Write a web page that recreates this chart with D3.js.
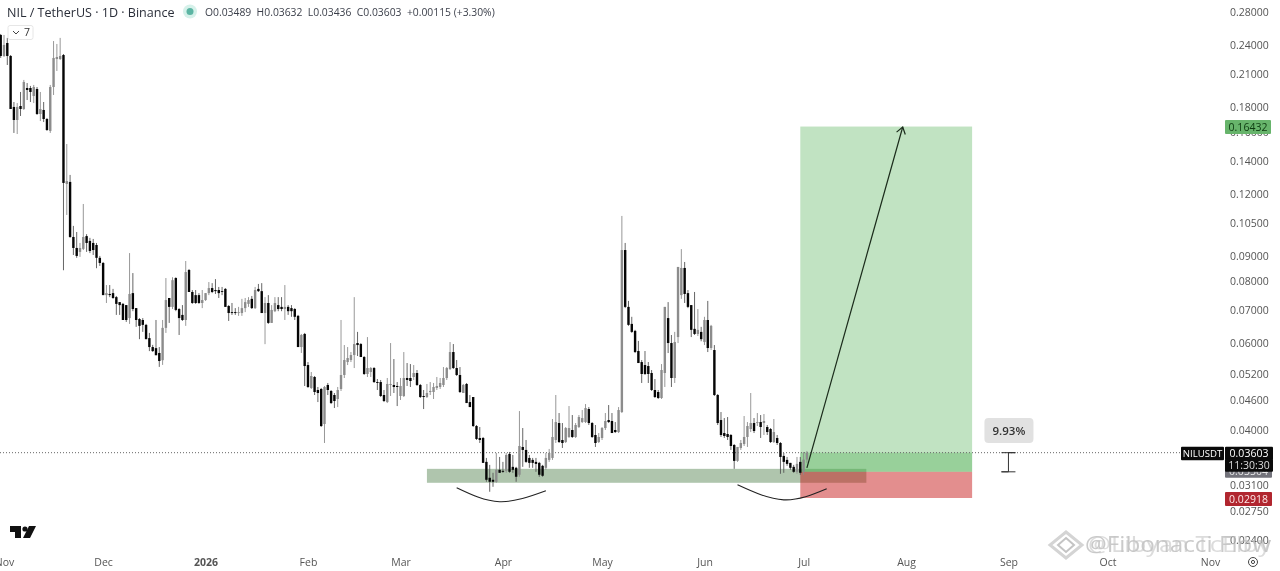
<!DOCTYPE html>
<html>
<head>
<meta charset="utf-8">
<title>NIL / TetherUS</title>
<script src="https://cdn.jsdelivr.net/npm/d3@7"></script>
<style>
    html, body { margin: 0; padding: 0; background: #fff; overflow: hidden; }
    svg { display: block; font-family: "Open Sans", sans-serif; filter: blur(.3px); }
</style>
</head>
<body>
<svg id="chart" width="1280" height="571"></svg>
<script>
// daily candles, first one is 2025-10-31
var firstDay = new Date(Date.UTC(2025, 9, 31));

var opens = [
    .2516,.2282,.2424,.2282,.1800,.1694,.1808,.1783,.1966,.1966,
    .1894,.1957,.1742,.1775,.1702,.1610,.1975,.2250,.2250,.2292,
    .1258,.1270,.0983,.0934,.0917,.0930,.0987,.0965,.0956,.0947,
    .0892,.0871,.0750,.0754,.0757,.0743,.0726,.0720,.0716,.0674,
    .0757,.0706,.0671,.0668,.0653,.0614,.0589,.0586,.0573,.0554,
    .0644,.0740,.0710,.0812,.0703,.0684,.0668,.0843,.0761,.0750,
    .0750,.0723,.0733,.0757,.0775,.0768,.0768,.0764,.0772,.0713,
    .0693,.0693,.0690,.0690,.0706,.0720,.0737,.0706,.0772,.0764,
    .0690,.0723,.0659,.0696,.0716,.0710,.0703,.0710,.0706,.0703,
    .0681,.0589,.0626,.05417,.04869,.05124,.04823,.04846,.04117,.04937,
    .04801,.04712,.04625,.04846,.05172,.05493,.05545,.05675,.06001,.05973,
    .05623,.05196,.05244,.05342,.05005,.05005,.04712,.04560,.04937,.04937,
    .04914,.04690,.04690,.05100,.05100,.05124,.05220,.04937,.04690,.04668,
    .04778,.04778,.04869,.04891,.04937,.05100,.05317,.05755,.05342,.05172,
    .04756,.04960,.04560,.04668,.04079,.03858,.03858,.03452,.03206,.03176,
    .03147,.03327,.03311,.03311,.03582,.03373,.03358,.03251,.03700,.03649,
    .03516,.03484,.03452,.03436,.03389,.03358,.03484,.03516,.03822,.04136,
    .03822,.03786,.03876,.04004,.03876,.04060,.04155,.04155,.04414,.04136,
    .03912,.03786,.03858,.04041,.04194,.04175,.04004,.03966,.04353,.0925,
    .0710,.0656,.0635,.05782,.05493,.05417,.05392,.05220,.04823,.04778,
    .04647,.05220,.0674,.06001,.05100,.0617,.0750,.0851,.0757,.0716,
    .0641,.0626,.0632,.06029,.0668,.05863,.05809,.04712,.04194,.03948,
    .03930,.03912,.03734,.03468,.03683,.03751,.03876,.04022,.04136,.04136,
    .04155,.04136,.04060,.04022,.03786,.03858,.03769,.03549,.03484,.03436,
    .03373,.03296,.03452,.03296,.03489
];
var highs = [
    .2528,.2516,.2482,.2292,.1842,.1833,.1930,.2041,.2012,.1985,
    .1994,.1975,.1930,.1842,.1710,.1994,.2446,.2413,.2482,.2303,
    .1515,.1312,.1035,.1006,.0956,.1146,.0996,.0979,.0974,.0956,
    .0900,.0875,.0786,.0786,.0772,.0747,.0726,.0723,.0716,.0912,
    .0831,.0706,.0674,.0674,.0656,.0629,.0595,.0668,.0589,.0668,
    .0812,.0740,.0815,.0815,.0706,.0716,.0879,.0847,.0768,.0768,
    .0757,.0768,.0757,.0797,.0793,.0808,.0779,.0779,.0775,.0716,
    .0723,.0706,.0710,.0737,.0740,.0743,.0747,.0779,.0790,.0793,
    .0743,.0750,.0716,.0743,.0743,.0743,.0786,.0716,.0716,.0706,
    .0684,.0626,.0629,.05493,.05244,.05148,.04891,.04869,.04914,.04983,
    .04823,.04756,.04891,.0668,.05945,.05890,.05755,.0743,.0632,.06001,
    .05649,.0617,.05367,.05367,.05076,.05053,.04823,.05100,.06001,.05571,
    .05005,.05100,.05755,.05468,.05442,.05417,.05293,.04960,.04823,.04960,
    .05005,.04983,.05124,.05100,.05367,.05367,.06029,.05973,.05545,.05367,
    .04960,.04983,.04712,.04668,.04098,.04060,.03876,.03516,.03404,.03281,
    .03598,.03532,.03452,.03598,.03615,.03565,.03373,.04373,.04041,.03822,
    .03565,.03516,.03516,.03452,.03404,.03598,.03666,.04214,.04712,.04333,
    .04136,.04060,.04476,.04293,.04136,.04293,.04394,.04518,.04455,.04155,
    .04098,.03948,.04060,.04333,.04497,.04333,.04155,.04455,.1084,.0956,
    .0730,.0678,.0638,.0606,.05545,.05782,.05493,.05293,.05076,.04823,
    .05442,.0710,.0726,.0623,.0632,.0855,.0929,.0875,.0768,.0716,
    .0761,.0703,.0647,.0678,.0730,.0653,.05945,.04734,.04353,.04233,
    .04253,.03930,.03751,.03700,.03822,.04273,.04155,.04756,.04233,.04333,
    .04293,.04313,.04098,.04041,.04214,.03912,.03786,.03598,.03532,.03436,
    .03404,.03532,.03532,.03615,.03632
];
var lows = [
    .2261,.2271,.2188,.1783,.1595,.1587,.1726,.1775,.1859,.1842,
    .1833,.1734,.1686,.1678,.1610,.1595,.1903,.2128,.2240,.0842,
    .1089,.0979,.0904,.0892,.0896,.0925,.0917,.0912,.0904,.0850,
    .0859,.0750,.0723,.0743,.0737,.0684,.0684,.0668,.0662,.0656,
    .0696,.0647,.0611,.0632,.0611,.0578,.0576,.0567,.0537,.0542,
    .0629,.0659,.0703,.0696,.0623,.0665,.0650,.0761,.0720,.0720,
    .0720,.0706,.0730,.0750,.0757,.0754,.0740,.0750,.0710,.0665,
    .0684,.0684,.0681,.0681,.0693,.0710,.0703,.0703,.0761,.0690,
    .0597,.0656,.0659,.0693,.0696,.0696,.0668,.0684,.0678,.0668,
    .0589,.0573,.04914,.04869,.04846,.04712,.04560,.04060,.03769,.04712,
    .04518,.04435,.04455,.04801,.05100,.05417,.05493,.05342,.05649,.05623,
    .05172,.05124,.05124,.04983,.04823,.04668,.04560,.04539,.04690,.04756,
    .04476,.04604,.04668,.04914,.04891,.05053,.04914,.04647,.04414,.04647,
    .04712,.04625,.04823,.04846,.04891,.05053,.05293,.05317,.05148,.04756,
    .04756,.04539,.04455,.04060,.03822,.03769,.03436,.03147,.03004,.03074,
    .03132,.03281,.03281,.03281,.03281,.03281,.03147,.03221,.03373,.03436,
    .03358,.03358,.03296,.03221,.03221,.03327,.03452,.03484,.03769,.03769,
    .03683,.03769,.03858,.03858,.03858,.04041,.04136,.04136,.04098,.03858,
    .03700,.03769,.03822,.04004,.04136,.03948,.03948,.03948,.04333,.0706,
    .0650,.0629,.05728,.05468,.04983,.05172,.04983,.04801,.04647,.04625,
    .04625,.04891,.05728,.04891,.04983,.06001,.0737,.0723,.0706,.0617,
    .0623,.0620,.0605,.05945,.05755,.05809,.04690,.04098,.03876,.03858,
    .03822,.03649,.03342,.03452,.03649,.03717,.03700,.03966,.03948,.04079,
    .03858,.03912,.03912,.03769,.03769,.03734,.03266,.03281,.03389,.03327,
    .03281,.03266,.03251,.03251,.03436
];
var closes = [
    .2282,.2402,.2282,.1783,.1694,.1800,.1783,.2022,.1948,.1930,
    .1975,.1742,.1783,.1702,.1617,.1975,.2261,.2271,.2282,.1264,
    .1275,.0983,.0934,.0900,.0934,.0983,.0956,.0921,.0925,.0892,
    .0871,.0750,.0757,.0750,.0740,.0720,.0716,.0668,.0668,.0754,
    .0703,.0668,.0650,.0653,.0611,.0589,.0578,.0567,.0552,.0644,
    .0733,.0710,.0804,.0700,.0674,.0668,.0835,.0761,.0723,.0723,
    .0723,.0733,.0757,.0775,.0761,.0764,.0757,.0761,.0710,.0690,
    .0690,.0690,.0693,.0706,.0726,.0733,.0706,.0768,.0764,.0690,
    .0723,.0659,.0700,.0723,.0703,.0703,.0710,.0696,.0696,.0678,
    .0589,.0623,.05392,.04891,.05148,.04778,.04756,.04079,.04891,.04823,
    .04539,.04582,.04823,.05172,.05545,.05597,.05675,.05973,.05945,.05623,
    .05196,.05342,.05342,.05005,.04983,.04690,.04582,.04960,.04960,.04891,
    .04891,.04914,.05100,.05053,.05029,.05220,.04937,.04668,.04668,.04756,
    .04801,.04891,.04914,.04983,.05100,.05342,.05755,.05342,.05172,.04778,
    .04937,.04539,.04455,.04079,.03840,.03822,.03436,.03176,.03147,.03147,
    .03327,.03281,.03296,.03565,.03296,.03327,.03221,.03717,.03649,.03452,
    .03436,.03436,.03420,.03251,.03236,.03516,.03598,.03876,.04155,.03786,
    .03769,.04041,.04041,.03876,.04098,.04253,.04233,.04435,.04136,.03876,
    .03769,.03876,.04041,.04175,.04155,.03948,.03966,.04394,.0925,.0710,
    .0653,.0632,.05755,.05468,.05196,.05196,.05196,.04823,.04668,.04647,
    .05293,.0710,.06001,.05100,.06029,.0855,.0851,.0754,.0710,.0638,
    .0626,.0638,.0611,.0668,.05863,.0650,.04712,.04136,.03912,.03894,
    .03876,.03717,.03468,.03700,.03769,.03876,.04079,.04136,.03985,.04155,
    .04060,.04175,.03966,.03786,.03966,.03769,.03532,.03452,.03420,.03358,
    .03296,.03420,.03281,.03489,.03603
];

var priceTicks = [.28,.24,.21,.18,.16,.14,.12,.105,.09,.08,.07,.06,.052,.046,.04,.031,.0275,.024];
var monthTicks = ["2025-11-01","2025-12-01","2026-01-01","2026-02-01","2026-03-01","2026-04-01","2026-05-01","2026-06-01","2026-07-01","2026-08-01","2026-09-01","2026-10-01","2026-11-01"];

var zoneDates = ["2026-03-09","2026-07-20"];
var zonePrices = [.03342,.03132];
var toolDates = ["2026-06-30","2026-08-21"];
var entryPrice = .03296, targetPrice = .16432, stopPrice = .02918;
var lastPrice = .03603, prevLabelPrice = .03504;
var arrowDates = ["2026-07-02","2026-07-31"];
var arrowPrices = [.03358,.1640];
var arc1Dates = ["2026-03-18","2026-03-31","2026-04-14"];
var arc1Prices = [.03060,.02868,.03018];
var arc2Dates = ["2026-06-11","2026-06-25","2026-07-08"];
var arc2Prices = [.03103,.02893,.03046];
var rulerDate = "2026-09-01";

var svg = d3.select("#chart");
var fmt = d3.format(".5f");
var day = function(s){ return new Date(s + "T00:00:00Z"); };

var x = d3.scaleUtc().domain([day("2025-11-01"), day("2026-11-01")]).range([4, 1210]);
var y = d3.scaleLog().domain([.28, .024]).range([12, 540]);

var candles = opens.map(function(o, i){
    return {date: d3.utcDay.offset(firstDay, i), o: o, h: highs[i], l: lows[i], c: closes[i]};
});

// axes
var yAxis = d3.axisRight(y).tickValues(priceTicks).tickFormat(fmt).tickSize(0).tickPadding(0);
var gy = svg.append("g").attr("transform", "translate(1230,0)").call(yAxis);
gy.select(".domain").remove();
gy.selectAll("text").style("font-size", "10.5px").style("fill", "#555").style("font-family", "'Open Sans', sans-serif");

var xAxis = d3.axisBottom(x).tickValues(monthTicks.map(day)).tickSize(0).tickPadding(0)
    .tickFormat(function(d){
        return d.getUTCMonth() === 0 ? d3.utcFormat("%Y")(d) : d3.utcFormat("%b")(d);
    });
var gx = svg.append("g").attr("transform", "translate(0,559)").call(xAxis);
gx.select(".domain").remove();
gx.selectAll("text").style("font-size", "10.5px").style("fill", "#555").style("font-family", "'Open Sans', sans-serif")
    .style("font-weight", function(d){ return d.getUTCMonth() === 0 ? "700" : "400"; });

// zone under the position tool
svg.append("rect")
    .attr("x", x(day(zoneDates[0]))).attr("width", x(day(zoneDates[1])) - x(day(zoneDates[0])))
    .attr("y", y(zonePrices[0])).attr("height", y(zonePrices[1]) - y(zonePrices[0]))
    .attr("fill", "#afc5ad");

// long position tool
var toolX = x(day(toolDates[0])), toolW = x(day(toolDates[1])) - toolX;
svg.append("rect").attr("x", toolX).attr("width", toolW)
    .attr("y", y(targetPrice)).attr("height", y(entryPrice) - y(targetPrice))
    .attr("fill", "rgb(76,175,80)").attr("fill-opacity", .35);
svg.append("rect").attr("x", toolX).attr("width", toolW)
    .attr("y", y(lastPrice)).attr("height", y(entryPrice) - y(lastPrice))
    .attr("fill", "rgb(76,175,80)").attr("fill-opacity", .35);
svg.append("rect").attr("x", toolX).attr("width", toolW)
    .attr("y", y(entryPrice)).attr("height", y(stopPrice) - y(entryPrice))
    .attr("fill", "rgb(200,30,30)").attr("fill-opacity", .5);

// last price line
svg.append("line").attr("x1", 0).attr("x2", 1181).attr("y1", y(lastPrice)).attr("y2", y(lastPrice))
    .attr("stroke", "#666").attr("stroke-width", 1).attr("stroke-dasharray", "1 2");

// candles
var colour = function(d){ return d.c >= d.o ? "#8c8c8c" : "#050505"; };
var g = svg.append("g");
g.selectAll("line").data(candles).enter().append("line")
    .attr("x1", function(d){ return x(d.date); }).attr("x2", function(d){ return x(d.date); })
    .attr("y1", function(d){ return y(d.h); }).attr("y2", function(d){ return y(d.l); })
    .attr("stroke", function(d){ return d.c >= d.o ? "#8c8c8c" : "#555"; }).attr("stroke-width", .9);
g.selectAll("rect").data(candles).enter().append("rect")
    .attr("x", function(d){ return x(d.date) - 1.2; }).attr("width", 2.4)
    .attr("y", function(d){ return y(Math.max(d.o, d.c)); })
    .attr("height", function(d){ return Math.max(.8, Math.abs(y(d.o) - y(d.c))); })
    .attr("fill", colour);

// hand drawn arcs
var arc = d3.line().curve(d3.curveNatural)
    .x(function(d){ return x(day(d[0])); }).y(function(d){ return y(d[1]); });
svg.append("path").attr("d", arc(d3.zip(arc1Dates, arc1Prices))).attr("fill", "none").attr("stroke", "#222").attr("stroke-width", 1.1);
svg.append("path").attr("d", arc(d3.zip(arc2Dates, arc2Prices))).attr("fill", "none").attr("stroke", "#222").attr("stroke-width", 1.1);

// arrow
var ax0 = x(day(arrowDates[0])), ay0 = y(arrowPrices[0]), ax1 = x(day(arrowDates[1])), ay1 = y(arrowPrices[1]);
var ang = Math.atan2(ay1 - ay0, ax1 - ax0);
svg.append("line").attr("x1", ax0).attr("y1", ay0).attr("x2", ax1).attr("y2", ay1)
    .attr("stroke", "#1a2a1a").attr("stroke-width", 1.2);
svg.append("path")
    .attr("d", d3.line()([
        [ax1 - 8 * Math.cos(ang - .6), ay1 - 8 * Math.sin(ang - .6)],
        [ax1, ay1],
        [ax1 - 8 * Math.cos(ang + .6), ay1 - 8 * Math.sin(ang + .6)]
    ]))
    .attr("fill", "none").attr("stroke", "#1a2a1a").attr("stroke-width", 1.2);

// percent label and ruler
var rx = x(day(rulerDate));
svg.append("rect").attr("x", rx - 24).attr("y", 418).attr("width", 49).attr("height", 25).attr("rx", 4).attr("fill", "#e1e1e1");
svg.append("text").attr("x", rx + .5).attr("y", 434.5).attr("text-anchor", "middle")
    .style("font-size", "11.5px").style("font-weight", "600").style("fill", "#333").text("9.93%");
svg.append("path")
    .attr("d", d3.line()([[rx - 7, y(lastPrice)], [rx + 7, y(lastPrice)], [rx, y(lastPrice)], [rx, y(entryPrice)], [rx - 7, y(entryPrice)], [rx + 7, y(entryPrice)]]))
    .attr("fill", "none").attr("stroke", "#333").attr("stroke-width", 1);

// price scale labels
var tag = function(left, width, top, height, bg, fg, txt, size){
    svg.append("rect").attr("x", left).attr("y", top).attr("width", width).attr("height", height).attr("rx", 1).attr("fill", bg);
    svg.append("text").attr("x", left + width / 2).attr("y", top + height / 2 + 3.6).attr("text-anchor", "middle")
        .style("font-size", (size || 10.5) + "px").style("font-weight", "500").style("fill", fg).text(txt);
};
tag(1225, 46, y(targetPrice) - 6.5, 14, "#67b46b", "#0d3b10", fmt(targetPrice));
tag(1225, 47, y(prevLabelPrice) + 6, 13, "#73737b", "#e8e8e8", fmt(prevLabelPrice));
tag(1225, 47, y(stopPrice) - 6, 14, "#b1262f", "#ffe9e9", fmt(stopPrice));
tag(1181, 43, y(lastPrice) - 6, 13.5, "#0a0a0a", "#fff", "NILUSDT", 9.6);
tag(1225, 48, y(lastPrice) - 6, 13, "#0a0a0a", "#fff", fmt(lastPrice));
tag(1225, 48, y(lastPrice) + 6, 13, "#0a0a0a", "#ddd", "11:30:30");

// header
var last = candles[candles.length - 1];
svg.append("text").attr("x", 7).attr("y", 17).style("font-size", "12.55px").style("fill", "#2a2e39").style("font-weight", "500")
    .text("NIL / TetherUS \u00b7 1D \u00b7 Binance");
svg.append("circle").attr("cx", 190).attr("cy", 11.5).attr("r", 7).attr("fill", "#d6f1ea");
svg.append("circle").attr("cx", 190).attr("cy", 11.5).attr("r", 3.5).attr("fill", "#5cb5a3");
svg.append("text").attr("x", 205).attr("y", 15.5).style("font-size", "10.35px").style("fill", "#3a3e49").attr("xml:space", "preserve")
    .text("O" + fmt(last.o) + "  H" + fmt(last.h) + "  L" + fmt(last.l) + "  C" + fmt(last.c) + "  +0.00115 (+3.30%)");

// collapse button
svg.append("rect").attr("x", 8).attr("y", 25.5).attr("width", 25).attr("height", 14).attr("rx", 2).attr("fill", "#fff").attr("stroke", "#e6e6e6");
svg.append("path").attr("d", "M13 31l3 3 3-3").attr("fill", "none").attr("stroke", "#444");
svg.append("text").attr("x", 24).attr("y", 36).style("font-size", "10.5px").style("fill", "#333").text("7");

// logo
svg.append("path").attr("d", "M10 526H21V538H15V532H10ZM29 526H36L30 538H23Z").attr("fill", "#111");
svg.append("circle").attr("cx", 25).attr("cy", 529).attr("r", 2.6).attr("fill", "#111");

// settings
svg.append("circle").attr("cx", 1253).attr("cy", 562).attr("r", 4.5).attr("fill", "none").attr("stroke", "#444");
svg.append("circle").attr("cx", 1253).attr("cy", 562).attr("r", 1.6).attr("fill", "none").attr("stroke", "#444");

// watermark
svg.append("path").attr("d", "M1066 532L1082 545L1066 558L1050 545Z").attr("fill", "none").attr("stroke", "#d4d4d4").attr("stroke-width", 3);
svg.append("path").attr("d", "M1066 538L1074 545L1066 552L1058 545Z").attr("fill", "none").attr("stroke", "#c4c4c4").attr("stroke-width", 2);
svg.append("text").attr("x", 1085).attr("y", 552).attr("textLength", 186).attr("lengthAdjust", "spacingAndGlyphs")
    .style("font-size", "21px").style("fill", "#b4b4b4").attr("fill-opacity", .7).text("@Fibonacci Flow");
svg.append("text").attr("x", 1088).attr("y", 552).attr("textLength", 183).attr("lengthAdjust", "spacingAndGlyphs")
    .style("font-size", "21px").style("fill", "#c4c4c4").attr("fill-opacity", .6).text("@Libyan TcElby");
</script>
</body>
</html>
